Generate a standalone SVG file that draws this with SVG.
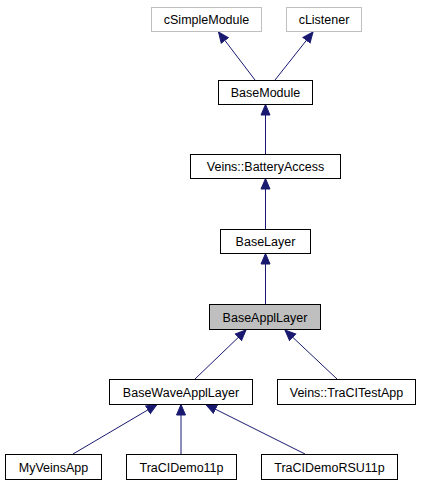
<svg xmlns="http://www.w3.org/2000/svg" width="428" height="485" viewBox="0 0 428 485">
<style>
.box{fill:#ffffff;stroke:#000000;stroke-width:1}
.ext{fill:#ffffff;stroke:#bfbfbf;stroke-width:1}
.cur{fill:#bfbfbf;stroke:#000000;stroke-width:1}
text{font-family:"Liberation Sans",Arial,Helvetica,sans-serif;font-size:12.5px;fill:#000000;text-anchor:middle}
.edge{stroke:#191970;stroke-width:1;fill:none;marker-end:url(#ah)}
</style>
<defs>
<marker id="ah" markerUnits="userSpaceOnUse" markerWidth="12" markerHeight="11" refX="11" refY="5.5" orient="auto" viewBox="0 0 12 11">
<path d="M0.5,1 L11,5.5 L0.5,10 z" fill="#191970" stroke="#191970" stroke-width="1"/>
</marker>
</defs>
<rect width="428" height="485" fill="#ffffff"/>
<g id="connectors">
<path class="edge" d="M255,80 L218.5,32"/>
<path class="edge" d="M275,80 L313,32"/>
<path class="edge" d="M265.5,154 L265.5,104.5"/>
<path class="edge" d="M265.5,229 L265.5,178.5"/>
<path class="edge" d="M265.5,304 L265.5,253.5"/>
<path class="edge" d="M195,379 L246,330"/>
<path class="edge" d="M337,379 L285,330"/>
<path class="edge" d="M73,454 L157,404.5"/>
<path class="edge" d="M181,454 L181,404.5"/>
<path class="edge" d="M305,454 L206,404.5"/>
</g>
<g id="cSimpleModule"><rect class="ext" x="151.5" y="7.5" width="110" height="24"/><text x="206.5" y="24">cSimpleModule</text></g>
<g id="cListener"><rect class="ext" x="286.5" y="7.5" width="75" height="24"/><text x="324" y="24">cListener</text></g>
<g id="BaseModule"><rect class="box" x="218.5" y="80.5" width="94" height="24"/><text x="265.5" y="97">BaseModule</text></g>
<g id="BatteryAccess"><rect class="box" x="190.5" y="154.5" width="150" height="24"/><text x="265.5" y="171">Veins::BatteryAccess</text></g>
<g id="BaseLayer"><rect class="box" x="220.5" y="229.5" width="90" height="24"/><text x="265.5" y="246">BaseLayer</text></g>
<g id="BaseApplLayer"><rect class="cur" x="209.5" y="304.5" width="111" height="25"/><text x="265" y="321.5">BaseApplLayer</text></g>
<g id="BaseWaveApplLayer"><rect class="box" x="109.5" y="379.5" width="143" height="25"/><text x="181" y="396.5">BaseWaveApplLayer</text></g>
<g id="TraCITestApp"><rect class="box" x="277.5" y="379.5" width="138" height="25"/><text x="346.5" y="396.5">Veins::TraCITestApp</text></g>
<g id="MyVeinsApp"><rect class="box" x="5.5" y="454.5" width="96" height="25"/><text x="53.5" y="471.5">MyVeinsApp</text></g>
<g id="TraCIDemo11p"><rect class="box" x="126.5" y="454.5" width="110" height="25"/><text x="181.5" y="471.5">TraCIDemo11p</text></g>
<g id="TraCIDemoRSU11p"><rect class="box" x="261.5" y="454.5" width="136" height="25"/><text x="329.5" y="471.5">TraCIDemoRSU11p</text></g>
</svg>
